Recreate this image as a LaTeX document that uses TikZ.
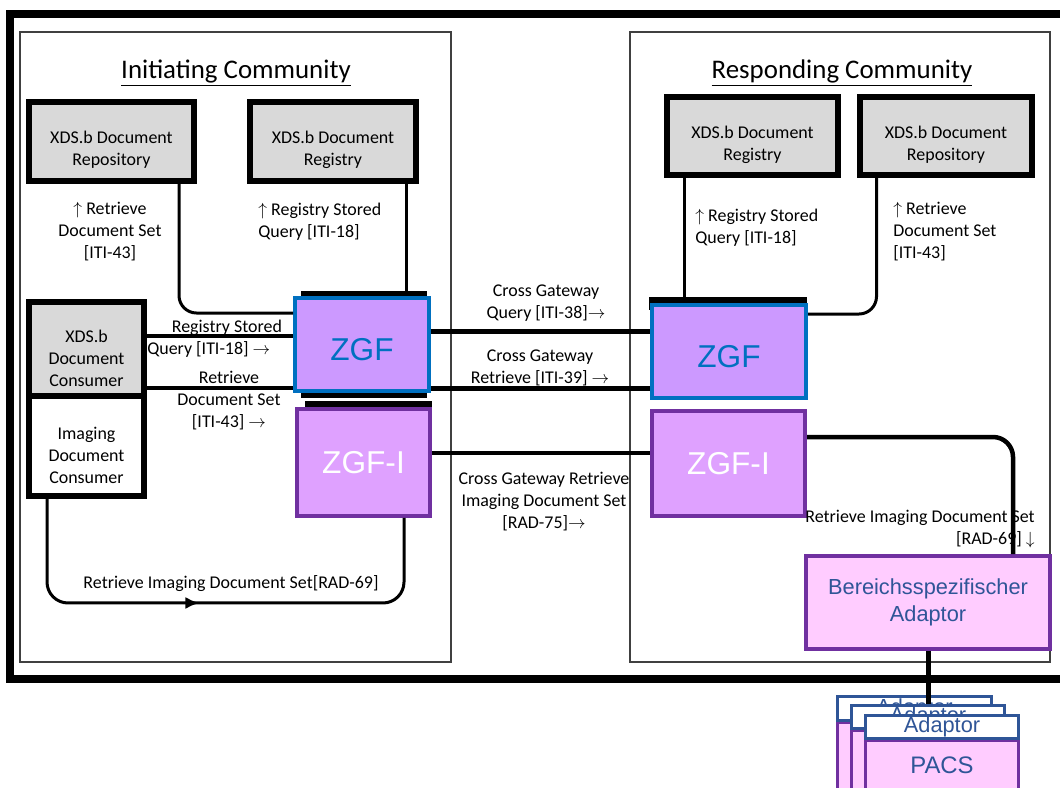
\documentclass[tikz,border=0pt]{standalone}
\usepackage{fontspec}
\setmainfont{Carlito}
\newfontfamily\arialf{Liberation Sans}
\usetikzlibrary{calc,arrows.meta,decorations.markings}
\definecolor{zblue}{HTML}{0070C0}
\definecolor{zfill}{HTML}{CC99FF}
\definecolor{zifill}{HTML}{DFA1FF}
\definecolor{purp}{HTML}{7030A0}
\definecolor{pinkfill}{HTML}{FFCCFF}
\definecolor{dblue}{HTML}{2F5597}
\definecolor{grayfill}{HTML}{D9D9D9}
\definecolor{framegray}{HTML}{404040}
\begin{document}
\begin{tikzpicture}[x=0.02cm,y=-0.02cm,
  lab/.style={font=\fontsize{10.2pt}{12.5pt}\selectfont, inner sep=0pt, align=center},
  titl/.style={font=\fontsize{15.3pt}{18pt}\selectfont, inner sep=0pt},
  graybox/.style={draw=black, line width=0.12cm, fill=grayfill, inner sep=0pt},
  whitebox/.style={draw=black, line width=0.12cm, fill=white, inner sep=0pt},
  commframe/.style={draw=framegray, line width=0.04cm, inner sep=0pt},
  back/.style={fill=black, inner sep=0pt},
  zgf/.style={draw=zblue, line width=0.08cm, fill=zfill, inner sep=0pt, text=zblue, font=\arialf\fontsize{18pt}{20pt}\selectfont, text height=18.7pt, text depth=0pt},
  zgfi/.style={draw=purp, line width=0.08cm, fill=zifill, inner sep=0pt, text=white, font=\arialf\fontsize{18pt}{20pt}\selectfont},
  adapt/.style={draw=purp, line width=0.08cm, fill=pinkfill, inner sep=0pt, text=dblue, align=center, font=\arialf\fontsize{12.4pt}{15.3pt}\selectfont},
  cardbody/.style={draw=purp, line width=0.06cm, fill=pinkfill, inner sep=0pt},
  cardhead/.style={draw=dblue, line width=0.06cm, fill=white, inner sep=0pt, text=dblue, font=\arialf\fontsize{12.4pt}{14pt}\selectfont},
  pacs/.style={text=dblue, inner sep=0pt, font=\arialf\fontsize{13.6pt}{16pt}\selectfont},
  conn/.style={line width=0.06cm},
  conn4/.style={line width=0.08cm},
  conn5/.style={line width=0.1cm},
  midarrow/.style={postaction={decorate}, decoration={markings, mark=at position 4.95cm with {\arrow{Latex[length=0.28cm,width=0.24cm]}}}}]
\useasboundingbox (0,0) rectangle (1060,787);
\clip (0,0) rectangle (1060,787);
\fill[white] (0,0) rectangle (1060,787);
% outer frame
\draw[line width=0.16cm] (10,14) rectangle (1090,679);
% community frames
\node[commframe, minimum width=8.62cm, minimum height=12.6cm] (icomm) at (235.5,347) {};
\node[commframe, minimum width=8.4cm, minimum height=12.6cm] (rcomm) at (840,347) {};
\node[titl] (ititle) at (236,73) {\underline{Initiating Community}};
\node[titl] (rtitle) at (842,73) {\underline{Responding Community}};
% gray boxes
\node[graybox, minimum width=3.3cm, minimum height=1.58cm] (lrep) at (111.5,141.5) {};
\node[lab] (lrept) at (111.5,150) {XDS.b Document\\Repository};
\node[graybox, minimum width=3.32cm, minimum height=1.58cm] (lreg) at (333,141.5) {};
\node[lab] (lregt) at (333,150) {XDS.b Document\\Registry};
\node[graybox, minimum width=3.42cm, minimum height=1.56cm] (rreg) at (752.5,136) {};
\node[lab] (rregt) at (752.5,145) {XDS.b Document\\Registry};
\node[graybox, minimum width=3.44cm, minimum height=1.56cm] (rrep) at (946,136) {};
\node[lab] (rrept) at (946,145) {XDS.b Document\\Repository};
% consumers
\node[graybox, minimum width=2.3cm, minimum height=1.88cm] (cons) at (86.5,349) {};
\node[lab] (const) at (86.5,358) {XDS.b\\Document\\Consumer};
\node[whitebox, minimum width=2.3cm, minimum height=2.0cm] (imgcons) at (86.5,446) {};
\node[lab] (imgconst) at (86.5,455) {Imaging\\Document\\Consumer};
% left gateways
\node[back, minimum width=2.52cm, minimum height=2.14cm] (lzgfback) at (364,344.5) {};
\node[zgf, minimum width=2.68cm, minimum height=1.86cm] (lzgf) at (362,344.5) {ZGF};
\node[back, minimum width=2.54cm, minimum height=0.18cm] (lzgfibar) at (368.5,405.5) {};
\node[zgfi, minimum width=2.66cm, minimum height=2.14cm] (lzgfi) at (363.5,462.5) {ZGF-I};
% right gateways
\node[back, minimum width=3.16cm, minimum height=0.26cm] (rzgfback) at (728,303.5) {};
\node[zgf, minimum width=3.08cm, minimum height=1.86cm] (rzgf) at (729,351.5) {ZGF};
\node[zgfi, minimum width=3.06cm, minimum height=2.1cm] (rzgfi) at (728.5,463.5) {ZGF-I};
% adaptor
\node[adapt, minimum width=4.88cm, minimum height=1.86cm] (adaptor) at (928,602.5) {Bereichsspezifischer\\Adaptor};
% PACS cards
\node[cardbody, minimum width=3.08cm, minimum height=1.56cm] (c1b) at (914.5,761) {};
\node[cardhead, minimum width=3.08cm, minimum height=0.48cm] (c1h) at (914.5,708.5) {Adaptor};
\node[cardbody, minimum width=3.06cm, minimum height=1.4cm] (c2b) at (928,765) {};
\node[cardhead, minimum width=3.06cm, minimum height=0.46cm] (c2h) at (928,717) {Adaptor};
\node[cardbody, minimum width=3.06cm, minimum height=1.2cm] (c3b) at (942,770) {};
\node[cardhead, minimum width=3.06cm, minimum height=0.46cm] (c3h) at (942,727) {Adaptor};
\node[pacs] (pacst) at (942,765) {PACS};
% labels
\node[lab] (l1) at (110,232) {$\uparrow$ Retrieve\\Document Set\\{[ITI-43]}};
\node[lab, align=left, anchor=west] (l2) at (258,222) {$\uparrow$ Registry Stored\\Query [ITI-18]};
\node[lab, align=left, anchor=west] (l3) at (695,228) {$\uparrow$ Registry Stored\\Query [ITI-18]};
\node[lab, align=left, anchor=west] (l4) at (893,232) {$\uparrow$ Retrieve\\Document Set\\{[ITI-43]}};
\node[lab, align=left, anchor=west] (l5) at (147,338.5) {\hspace*{0.49cm}Registry Stored\\Query [ITI-18] $\rightarrow$};
\node[lab] (l6) at (229,401) {Retrieve\\Document Set\\{[ITI-43]} $\rightarrow$};
\node[lab] (l7) at (546,303.5) {Cross Gateway\\Query [ITI-38]$\rightarrow$};
\node[lab] (l8) at (540,367.5) {Cross Gateway\\Retrieve [ITI-39] $\rightarrow$};
\node[lab] (l9) at (544,501.5) {Cross Gateway Retrieve\\Imaging Document Set\\{[RAD-75]}$\rightarrow$};
\node[lab, align=right, anchor=east] (l10) at (1035,529.5) {Retrieve Imaging Document Set\\{[RAD-69]} $\downarrow$};
\node[lab] (l11) at (231,584) {Retrieve Imaging Document Set[RAD-69]};
% connectors
\coordinate (a1) at ($(lrep.south)+(67.5,0)$);
\draw[conn, rounded corners=0.35cm] (a1) |- ($(lzgf.north west)+(0,17)$);
\coordinate (a2) at ($(lreg.south)+(73,0)$);
\draw[conn] (a2) -- (a2 |- lzgfback.north);
\coordinate (a3) at ($(rreg.south)+(-68.5,0)$);
\draw[conn] (a3) -- (a3 |- rzgfback.north);
\coordinate (a4) at ($(rrep.south)+(-69.5,0)$);
\draw[conn, rounded corners=0.35cm] (a4) |- ($(rzgf.north east)+(0,11)$);
\coordinate (c1) at ($(cons.east)+(0,-13)$);
\draw[conn4] (c1) -- (c1 -| lzgf.west);
\coordinate (c2) at ($(cons.east)+(0,39)$);
\draw[conn4] (c2) -- (c2 -| lzgf.west);
\coordinate (m1) at ($(lzgf.east)+(0,-13.5)$);
\draw[conn5] (m1) -- (m1 -| rzgf.west);
\coordinate (m2) at ($(lzgf.east)+(0,43.5)$);
\draw[conn5] (m2) -- (m2 -| rzgf.west);
\coordinate (m3) at ($(lzgfi.east)+(0,-9.5)$);
\draw[line width=0.07cm] (m3) -- (m3 -| rzgfi.west);
\coordinate (r1) at ($(rzgfi.east)+(0,-26.5)$);
\coordinate (r2) at ($(adaptor.north)+(85,0)$);
\draw[line width=0.09cm, rounded corners=0.4cm] (r1) -| (r2);
\draw[conn5] (adaptor.south) -- (adaptor.south |- c2h.north);
\coordinate (b1) at ($(imgcons.south)+(-39.5,0)$);
\coordinate (b2) at ($(lzgfi.south)+(40.5,0)$);
\draw[conn, rounded corners=0.42cm, midarrow] (b1) -- ($(b1)+(0,104)$) -| (b2);
\end{tikzpicture}
\end{document}
